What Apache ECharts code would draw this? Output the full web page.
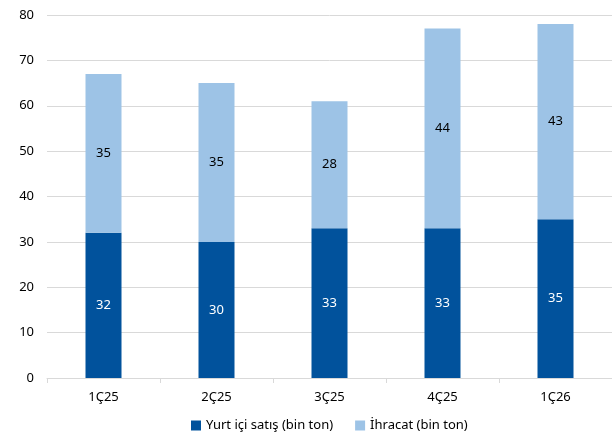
<!DOCTYPE html>
<html>
<head>
<meta charset="utf-8">
<script src="https://cdn.jsdelivr.net/npm/echarts@6/dist/echarts.min.js"></script>
<style>
  html, body { margin: 0; padding: 0; background: #fff; }
  #chart_view { width: 612px; height: 439px; }
</style>
</head>
<body>
<div id="chart_view"></div>
<script type="text/javascript">
  var categories = ['1Ç25', '2Ç25', '3Ç25', '4Ç25', '1Ç26'];
  var yurtici = [32, 30, 33, 33, 35];
  var ihracat = [35, 35, 28, 44, 43];
  var yTicks = [0, 10, 20, 30, 40, 50, 60, 70, 80];

  var myChart = echarts.init(document.getElementById('chart_view'));
  var font = 'Noto Sans';
  option = {
    animation: false,
    color: ['#01529C', '#9DC3E6'],
    textStyle: { fontFamily: font },
    legend: {
      bottom: 2,
      left: 186,
      itemWidth: 10,
      itemHeight: 10,
      itemGap: 22,
      icon: 'rect',
      textStyle: { fontSize: 13, color: '#000', fontFamily: font },
      data: ['Yurt içi satış (bin ton)', 'İhracat (bin ton)']
    },
    grid: {
      left: 47,
      top: 15,
      width: 567,
      height: 363
    },
    xAxis: {
      type: 'category',
      data: categories,
      axisLine: { lineStyle: { color: '#d9d9d9' } },
      axisTick: { show: true, alignWithLabel: false, length: 5, lineStyle: { color: '#d9d9d9' } },
      axisLabel: { color: '#000', fontSize: 13, margin: 13, fontFamily: font }
    },
    yAxis: {
      type: 'value',
      min: yTicks[0],
      max: yTicks[yTicks.length - 1],
      interval: 10,
      axisLine: { show: false },
      axisTick: { show: false },
      splitLine: { lineStyle: { color: '#d9d9d9' } },
      axisLabel: { color: '#000', fontSize: 13, margin: 13, fontFamily: font }
    },
    series: [
      {
        name: 'Yurt içi satış (bin ton)',
        type: 'bar',
        stack: 'total',
        barWidth: 36,
        data: yurtici,
        label: { show: true, position: 'inside', color: '#fff', fontSize: 13, fontFamily: font }
      },
      {
        name: 'İhracat (bin ton)',
        type: 'bar',
        stack: 'total',
        barWidth: 36,
        data: ihracat,
        label: { show: true, position: 'inside', color: '#000', fontSize: 13, fontFamily: font }
      }
    ]
  };
  myChart.setOption(option);
</script>
</body>
</html>
